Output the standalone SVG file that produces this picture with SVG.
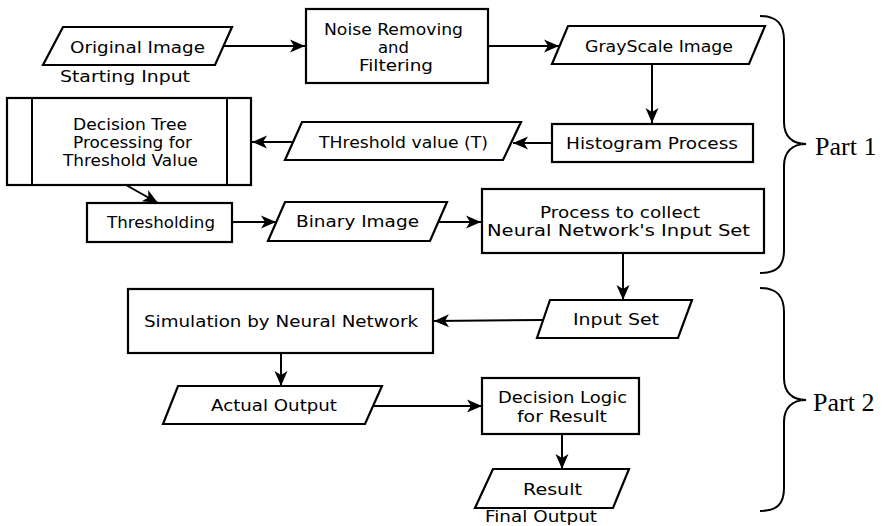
<svg xmlns="http://www.w3.org/2000/svg" width="883" height="526" viewBox="0 0 883 526">
<defs>
<marker id="ah" markerUnits="userSpaceOnUse" markerWidth="18" markerHeight="16" viewBox="-16 -8 18 16" refX="0" refY="0" orient="auto">
<path d="M0,0 L-15,-6.5 L-11,0 L-15,6.5 Z" fill="#000"/>
</marker>
</defs>
<style>
.s{fill:#fff;stroke:#000;stroke-width:2.2;stroke-linejoin:miter}
.t{font-family:"DejaVu Sans","Liberation Sans",sans-serif;font-size:16.5px;fill:#000;text-anchor:middle}
.sm{font-size:15px}
.c{fill:none;stroke:#000;stroke-width:2;marker-end:url(#ah)}
.br{fill:none;stroke:#000;stroke-width:2}
.p{font-family:"Liberation Serif","Times New Roman",serif;font-size:26px;fill:#000}
</style>
<rect width="883" height="526" fill="#fff"/>

<g id="connectors">
<line class="c" x1="224" y1="46" x2="305" y2="46"/>
<line class="c" x1="488" y1="46" x2="559" y2="46"/>
<line class="c" x1="652" y1="64" x2="652" y2="123"/>
<line class="c" x1="552" y1="143" x2="513" y2="143"/>
<line class="c" x1="293" y1="142" x2="252" y2="142"/>
<line class="c" x1="126" y1="185" x2="158" y2="203"/>
<line class="c" x1="232" y1="222" x2="276" y2="222"/>
<line class="c" x1="438" y1="222" x2="481" y2="222"/>
<line class="c" x1="623" y1="253" x2="623" y2="300"/>
<line class="c" x1="543" y1="320" x2="434" y2="321"/>
<line class="c" x1="281" y1="353" x2="281" y2="386"/>
<line class="c" x1="373" y1="406" x2="482" y2="406"/>
<line class="c" x1="562" y1="434" x2="562" y2="469"/>
</g>

<g id="original-image">
<polygon class="s" points="63,27 232,27 215,65 43,65"/>
<text class="t" x="137.5" y="53" textLength="135" lengthAdjust="spacingAndGlyphs">Original Image</text>
<text class="t" x="125" y="82" textLength="130" lengthAdjust="spacingAndGlyphs">Starting Input</text>
</g>

<g id="noise-removing">
<rect class="s" x="306" y="9" width="182" height="74"/>
<text class="t" x="393.5" y="35" textLength="139" lengthAdjust="spacingAndGlyphs">Noise Removing</text>
<text class="t" x="393.5" y="53" textLength="31" lengthAdjust="spacingAndGlyphs">and</text>
<text class="t" x="396" y="71" textLength="74" lengthAdjust="spacingAndGlyphs">Filtering</text>
</g>

<g id="grayscale-image">
<polygon class="s" points="568,26 765,26 749,64 552,64"/>
<text class="t" x="659" y="52" textLength="148" lengthAdjust="spacingAndGlyphs">GrayScale Image</text>
</g>

<g id="histogram-process">
<rect class="s" x="552" y="124" width="201" height="38"/>
<text class="t" x="652" y="149" textLength="172" lengthAdjust="spacingAndGlyphs">Histogram Process</text>
</g>

<g id="threshold-value">
<polygon class="s" points="302,122 521,122 503,160 285,160"/>
<text class="t" x="403.5" y="148" textLength="169" lengthAdjust="spacingAndGlyphs">THreshold value (T)</text>
</g>

<g id="decision-tree">
<rect class="s" x="7" y="98" width="244" height="87"/>
<line class="br" x1="32" y1="98" x2="32" y2="185"/>
<line class="br" x1="227" y1="98" x2="227" y2="185"/>
<text class="t sm" x="130" y="130" textLength="114" lengthAdjust="spacingAndGlyphs">Decision Tree</text>
<text class="t sm" x="132.5" y="148" textLength="119" lengthAdjust="spacingAndGlyphs">Processing for</text>
<text class="t sm" x="130.5" y="166" textLength="135" lengthAdjust="spacingAndGlyphs">Threshold Value</text>
</g>

<g id="thresholding">
<rect class="s" x="87" y="203" width="145" height="39"/>
<text class="t" x="161" y="228" textLength="108" lengthAdjust="spacingAndGlyphs">Thresholding</text>
</g>

<g id="binary-image">
<polygon class="s" points="285,202 447,202 430,241 268,241"/>
<text class="t" x="357.5" y="227" textLength="123" lengthAdjust="spacingAndGlyphs">Binary Image</text>
</g>

<g id="process-collect">
<rect class="s" x="482" y="189" width="282" height="64"/>
<text class="t" x="620" y="218" textLength="160" lengthAdjust="spacingAndGlyphs">Process to collect</text>
<text class="t" x="618.5" y="236" textLength="263" lengthAdjust="spacingAndGlyphs">Neural Network's Input Set</text>
</g>

<g id="input-set">
<polygon class="s" points="550,300 692,300 678,338 537,338"/>
<text class="t" x="616" y="325" textLength="86" lengthAdjust="spacingAndGlyphs">Input Set</text>
</g>

<g id="simulation">
<rect class="s" x="128" y="289" width="305" height="64"/>
<text class="t" x="281" y="327" textLength="274" lengthAdjust="spacingAndGlyphs">Simulation by Neural Network</text>
</g>

<g id="actual-output">
<polygon class="s" points="178,386 382,386 365,424 163,424"/>
<text class="t" x="274" y="411" textLength="126" lengthAdjust="spacingAndGlyphs">Actual Output</text>
</g>

<g id="decision-logic">
<rect class="s" x="482" y="378" width="157" height="56"/>
<text class="t" x="562.5" y="403" textLength="129" lengthAdjust="spacingAndGlyphs">Decision Logic</text>
<text class="t" x="562" y="422" textLength="90" lengthAdjust="spacingAndGlyphs">for Result</text>
</g>

<g id="result">
<polygon class="s" points="493,469 629,469 613,508 475,508"/>
<text class="t" x="552.5" y="495" textLength="59" lengthAdjust="spacingAndGlyphs">Result</text>
<text class="t" x="541" y="522" textLength="112" lengthAdjust="spacingAndGlyphs">Final Output</text>
</g>

<g id="part1">
<path class="br" d="M760,16 C777,16 784,24 784,40 L784,122 C784,136 792,144 806,144 C792,144 784,152 784,166 L784,250 C784,266 777,273 760,273"/>
<text class="p" x="815" y="155">Part 1</text>
</g>

<g id="part2">
<path class="br" d="M760,288 C777,288 784,296 784,312 L784,378 C784,392 792,400 806,400 C792,400 784,408 784,422 L784,488 C784,504 777,511 760,511"/>
<text class="p" x="813" y="411">Part 2</text>
</g>
</svg>
